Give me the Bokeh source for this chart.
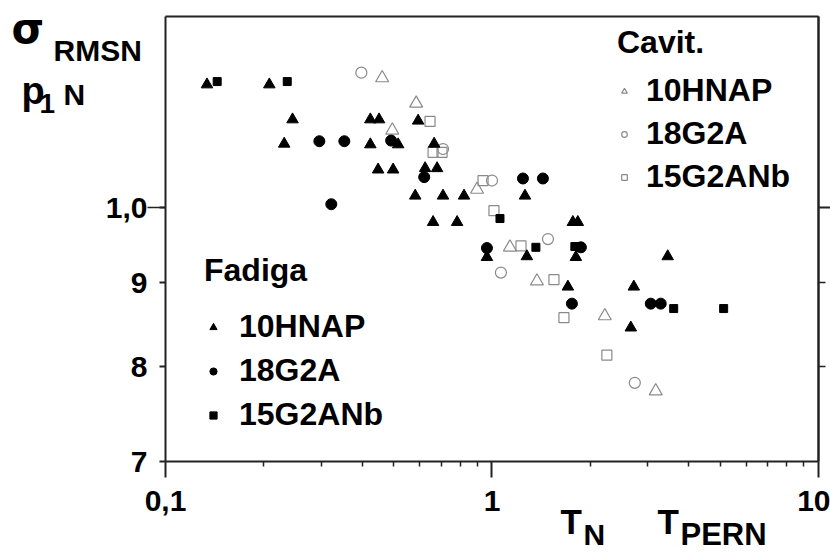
from bokeh.plotting import figure
from bokeh.models import FixedTicker, LogAxis, Legend, LegendItem, Label, Range1d
from bokeh.embed import file_html
from bokeh.resources import INLINE

# ---------------- data ----------------
# Fadiga (filled markers)
fad_10hnap_x = [0.134, 0.208, 0.245, 0.231, 0.424, 0.451, 0.424, 0.516, 0.448, 0.498,
                0.594, 0.665, 0.624, 0.679, 0.582, 0.708, 0.821, 1.262, 0.660, 0.782,
                1.769, 1.832, 0.965, 1.279, 1.807, 1.708, 3.453, 2.719, 2.662]
fad_10hnap_y = [1.189, 1.189, 1.132, 1.094, 1.132, 1.132, 1.093, 1.093, 1.055, 1.055,
                1.130, 1.094, 1.057, 1.057, 1.017, 1.017, 1.017, 1.017, 0.980, 0.980,
                0.980, 0.980, 0.933, 0.934, 0.933, 0.895, 0.934, 0.895, 0.845]

fad_18g2a_x = [0.296, 0.353, 0.322, 0.491, 0.620, 1.244, 1.432, 0.965, 1.872, 1.757, 3.064, 3.287]
fad_18g2a_y = [1.098, 1.098, 1.005, 1.099, 1.044, 1.042, 1.042, 0.945, 0.946, 0.874, 0.874, 0.874]

fad_15g2anb_x = [0.144, 0.236, 1.058, 1.363, 1.794, 3.602, 5.123]
fad_15g2anb_y = [1.194, 1.194, 0.985, 0.946, 0.947, 0.868, 0.868]

# Cavit. (open markers)
cav_10hnap_x = [0.461, 0.495, 0.586, 0.900, 1.135, 1.373, 2.216, 3.173]
cav_10hnap_y = [1.200, 1.115, 1.158, 1.026, 0.946, 0.902, 0.859, 0.773]

cav_18g2a_x = [0.398, 0.708, 1.000, 1.484, 1.065, 2.738]
cav_18g2a_y = [1.209, 1.086, 1.039, 0.957, 0.913, 0.782]

cav_15g2anb_x = [0.646, 0.660, 0.703, 0.939, 1.014, 1.227, 1.548, 1.661, 2.248]
cav_15g2anb_y = [1.129, 1.081, 1.081, 1.039, 0.996, 0.948, 0.904, 0.857, 0.813]

series_names = ["10HNAP", "18G2A", "15G2ANb"]

x_bounds = (0.1, 10)
y_bounds = (0.7, 1.308)
x_major = [0.1, 1, 10]
x_minor = [0.2, 0.3, 0.4, 0.5, 0.6, 0.7, 0.8, 0.9, 2, 3, 4, 5, 6, 7, 8, 9]
x_labels = {0.1: "0,1", 1: "1", 10: "10"}
y_major = [0.7, 0.8, 0.9, 1.0]
y_labels = {0.7: "7", 0.8: "8", 0.9: "9", 1.0: "1,0"}

# ---------------- figure ----------------
# The frame fills the whole page; the axes are drawn at fixed data locations,
# so that the axis titles (plain labels) are not clipped.
FONT = "Liberation Sans"
AX = "#222222"

p = figure(width=830, height=554, x_axis_type="log", y_axis_type="log",
           x_range=Range1d(0.03124, 10.884), y_range=Range1d(0.61444, 1.3380),
           output_backend="svg", toolbar_location=None, min_border=0)
p.grid.visible = False
p.outline_line_color = None
p.background_fill_color = "white"


def style_axis(ax):
    ax.axis_line_color = AX
    ax.axis_line_width = 2
    ax.major_tick_line_color = AX
    ax.major_tick_line_width = 2
    ax.minor_tick_line_color = AX
    ax.minor_tick_line_width = 1.5
    ax.major_tick_in = 0
    ax.minor_tick_in = 0
    ax.major_label_text_font = FONT
    ax.major_label_text_font_size = "30px"
    ax.major_label_text_font_style = "bold"
    ax.major_label_text_color = "black"


xa = p.xaxis[0]
style_axis(xa)
xa.fixed_location = y_bounds[0]
xa.bounds = x_bounds
xa.ticker = FixedTicker(ticks=x_major, minor_ticks=x_minor)
xa.major_label_overrides = x_labels
xa.major_tick_out = 16
xa.minor_tick_out = 5
xa.major_label_standoff = 13

ya = p.yaxis[0]
style_axis(ya)
ya.fixed_location = x_bounds[0]
ya.bounds = y_bounds
ya.ticker = FixedTicker(ticks=y_major, minor_ticks=[1.0])
ya.major_label_overrides = y_labels
ya.major_tick_out = 6
ya.minor_tick_out = 18
ya.major_label_standoff = 0

# top edge of the frame
ta = LogAxis(ticker=FixedTicker(ticks=[]), fixed_location=y_bounds[1], bounds=x_bounds)
style_axis(ta)
p.add_layout(ta, "above")

# right edge: short ticks at 8, 9 and a longer one at 1,0
ra1 = LogAxis(ticker=FixedTicker(ticks=[], minor_ticks=[0.8, 0.9]),
              fixed_location=x_bounds[1], bounds=y_bounds)
style_axis(ra1)
ra1.minor_tick_out = 7
ra2 = LogAxis(ticker=FixedTicker(ticks=[], minor_ticks=[1.0]),
              fixed_location=x_bounds[1], bounds=y_bounds)
style_axis(ra2)
ra2.minor_tick_out = 14
ra2.minor_tick_line_width = 2
p.add_layout(ra1, "right")
p.add_layout(ra2, "right")

GREY = "#8a8a8a"
r_c1 = p.scatter(cav_10hnap_x, cav_10hnap_y, marker="triangle", size=13,
                 fill_color=None, line_color=GREY, line_width=1.2)
r_c2 = p.scatter(cav_18g2a_x, cav_18g2a_y, marker="circle", size=11,
                 fill_color=None, line_color=GREY, line_width=1.2)
r_c3 = p.scatter(cav_15g2anb_x, cav_15g2anb_y, marker="square", size=10,
                 fill_color=None, line_color=GREY, line_width=1.2)

r_f1 = p.scatter(fad_10hnap_x, fad_10hnap_y, marker="triangle", size=11.5,
                 fill_color="black", line_color="black")
r_f2 = p.scatter(fad_18g2a_x, fad_18g2a_y, marker="circle", size=11,
                 fill_color="black", line_color="black")
r_f3 = p.scatter(fad_15g2anb_x, fad_15g2anb_y, marker="square", size=8,
                 fill_color="black", line_color="black")


def make_legend(title, renderers, loc, gw, standoff, spacing, tstand):
    items = [LegendItem(label=n, renderers=[r]) for n, r in zip(series_names, renderers)]
    return Legend(items=items, title=title, location=loc,
                  title_text_font=FONT, title_text_font_size="32px",
                  title_text_font_style="bold", title_text_color="black",
                  title_standoff=tstand,
                  label_text_font=FONT, label_text_font_size="32px",
                  label_text_font_style="bold", label_text_color="black",
                  glyph_width=gw, glyph_height=gw, label_standoff=standoff,
                  spacing=spacing, padding=0, margin=0,
                  border_line_color=None, background_fill_alpha=0)


leg_cav = make_legend("Cavit.", [r_c1, r_c2, r_c3], (617, 359), 14, 15, 6, 11)
leg_fad = make_legend("Fadiga", [r_f1, r_f2, r_f3], (204, 121), 18, 17, 7, 19)
p.add_layout(leg_cav)
p.add_layout(leg_fad)


# axis titles (screen px from the page's bottom-left corner)
def lab(text, x, y, size, font=FONT, style="bold"):
    p.add_layout(Label(x=x, y=y, x_units="screen", y_units="screen", text=text,
                       text_font=font, text_font_size=size, text_font_style=style,
                       text_color="black", text_baseline="alphabetic", text_align="left"))


lab("σ", 11, 526, "42px", font="DejaVu Sans")
lab("RMSN", 53, 504, "30px")
lab("p", 21, 464, "38px")
lab("1", 39, 451, "28px")
lab("N", 63, 460, "30px")
lab("T", 560, 33, "35px")
lab("N", 583, 20, "30px")
lab("T", 657, 33, "35px")
lab("PERN", 680, 20, "31px")

open("out.html", "w").write(file_html(p, INLINE))
